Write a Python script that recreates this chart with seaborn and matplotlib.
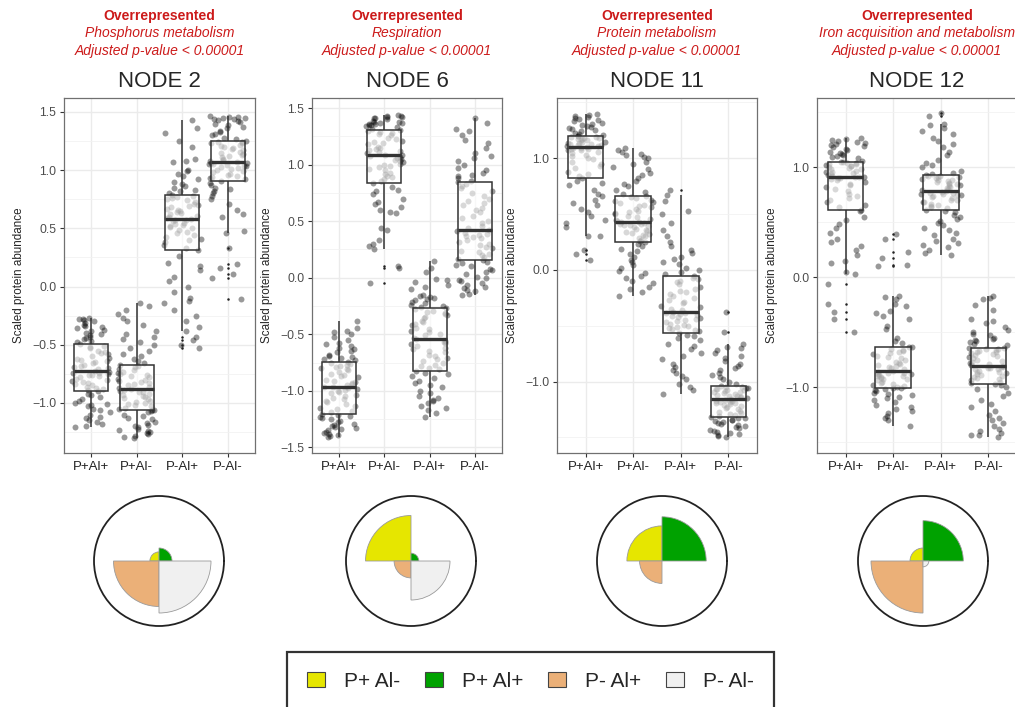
import numpy as np
import pandas as pd
import seaborn as sns
import matplotlib.pyplot as plt
from matplotlib.patches import Patch
from matplotlib.ticker import MultipleLocator, FuncFormatter

# ---- data ----
conditions = ['P+Al+', 'P+Al-', 'P-Al+', 'P-Al-']
node_titles = ['NODE 2', 'NODE 6', 'NODE 11', 'NODE 12']
node_terms = ['Phosphorus metabolism', 'Respiration', 'Protein metabolism',
              'Iron acquisition and metabolism']

# NODE 2
node2_pp = [-1.21, -1.18, -1.15, -1.12, -1.08, -1.05, -1.02, -1.00, -0.97, -0.93, -0.90,
            -0.88, -0.86, -0.84, -0.82, -0.80, -0.78, -0.76, -0.75, -0.74, -0.725,
            -0.70, -0.68, -0.66, -0.64, -0.62, -0.60, -0.57, -0.55, -0.52, -0.494,
            -0.47, -0.44, -0.42, -0.40, -0.37, -0.35, -0.33, -0.30, -0.28, -0.27,
            -1.20, -1.16, -1.13, -1.10, -1.06, -1.03, -1.01, -0.98, -0.95, -0.92,
            -0.89, -0.87, -0.85, -0.83, -0.81, -0.79, -0.77, -0.76, -0.745, -0.735,
            -0.71, -0.69, -0.67, -0.65, -0.63, -0.61, -0.58, -0.56, -0.53, -0.51,
            -0.48, -0.45, -0.43, -0.41, -0.38, -0.36, -0.34, -0.31, -0.29, -0.28]
node2_pm = [-1.30, -1.28, -1.26, -1.24, -1.22, -1.20, -1.17, -1.14, -1.11, -1.08, -1.064,
            -1.05, -1.03, -1.01, -0.99, -0.97, -0.95, -0.93, -0.91, -0.90, -0.884,
            -0.86, -0.84, -0.82, -0.80, -0.78, -0.76, -0.74, -0.72, -0.69, -0.673,
            -0.64, -0.60, -0.55, -0.50, -0.45, -0.41, -0.33, -0.27, -0.20, -0.14,
            -1.29, -1.27, -1.25, -1.23, -1.21, -1.19, -1.16, -1.13, -1.10, -1.07,
            -1.06, -1.04, -1.02, -1.00, -0.98, -0.96, -0.94, -0.92, -0.905, -0.89,
            -0.87, -0.85, -0.83, -0.81, -0.79, -0.77, -0.75, -0.73, -0.71, -0.68,
            -0.66, -0.62, -0.58, -0.53, -0.48, -0.43, -0.38, -0.30, -0.24, -0.17]
node2_mp = [-0.53, -0.50, -0.46, -0.43, -0.38, -0.25, -0.14, -0.05, 0.08, 0.20, 0.314,
            0.36, 0.40, 0.43, 0.46, 0.49, 0.51, 0.53, 0.55, 0.57, 0.58,
            0.60, 0.62, 0.64, 0.66, 0.68, 0.70, 0.73, 0.75, 0.77, 0.79,
            0.82, 0.85, 0.88, 0.92, 0.97, 1.00, 1.08, 1.20, 1.32, 1.43,
            -0.35, -0.30, -0.20, -0.12, -0.10, 0.00, 0.05, 0.14, 0.18, 0.26,
            0.33, 0.38, 0.41, 0.44, 0.47, 0.50, 0.52, 0.54, 0.56, 0.575,
            0.59, 0.61, 0.63, 0.65, 0.67, 0.69, 0.71, 0.74, 0.76, 0.78,
            0.80, 0.83, 0.86, 0.90, 0.95, 0.99, 1.07, 1.10, 1.25, 1.36]
node2_mm = [-0.11, 0.07, 0.11, 0.16, 0.19, 0.33, 0.46, 0.62, 0.75, 0.84, 0.905,
            0.93, 0.95, 0.97, 0.99, 1.01, 1.03, 1.04, 1.05, 1.06, 1.071,
            1.09, 1.11, 1.13, 1.15, 1.17, 1.19, 1.21, 1.23, 1.24, 1.251,
            1.28, 1.31, 1.34, 1.37, 1.40, 1.42, 1.44, 1.45, 1.46, 1.466,
            0.48, 0.60, 0.66, 0.71, 0.78, 0.80, 0.82, 0.85, 0.87, 0.89,
            0.92, 0.94, 0.96, 0.98, 1.00, 1.02, 1.035, 1.045, 1.055, 1.065,
            1.08, 1.10, 1.12, 1.14, 1.16, 1.18, 1.20, 1.22, 1.235, 1.245,
            1.27, 1.30, 1.33, 1.36, 1.39, 1.41, 1.43, 1.44, 1.45, 1.46]

# NODE 6
node6_pp = [-1.41, -1.39, -1.37, -1.35, -1.33, -1.31, -1.29, -1.27, -1.24, -1.22, -1.206,
            -1.18, -1.15, -1.12, -1.09, -1.06, -1.04, -1.01, -0.99, -0.975, -0.962,
            -0.94, -0.92, -0.90, -0.87, -0.85, -0.82, -0.80, -0.78, -0.76, -0.744,
            -0.72, -0.70, -0.68, -0.65, -0.62, -0.59, -0.55, -0.50, -0.47, -0.38,
            -1.40, -1.38, -1.36, -1.34, -1.32, -1.30, -1.28, -1.25, -1.23, -1.215,
            -1.19, -1.16, -1.13, -1.10, -1.07, -1.05, -1.02, -1.00, -0.98, -0.97,
            -0.95, -0.93, -0.91, -0.88, -0.86, -0.83, -0.81, -0.79, -0.77, -0.75,
            -0.73, -0.71, -0.69, -0.66, -0.63, -0.60, -0.58, -0.52, -0.48, -0.44]
node6_pm = [-0.05, 0.09, 0.10, 0.25, 0.33, 0.42, 0.57, 0.63, 0.70, 0.77, 0.841,
            0.87, 0.90, 0.93, 0.96, 0.99, 1.01, 1.03, 1.05, 1.07, 1.082,
            1.10, 1.12, 1.14, 1.16, 1.19, 1.21, 1.24, 1.27, 1.29, 1.309,
            1.33, 1.35, 1.36, 1.37, 1.38, 1.40, 1.41, 1.42, 1.43, 1.44,
            0.28, 0.30, 0.44, 0.58, 0.60, 0.65, 0.67, 0.74, 0.78, 0.80,
            0.86, 0.89, 0.92, 0.95, 0.98, 1.00, 1.02, 1.04, 1.06, 1.075,
            1.09, 1.11, 1.13, 1.15, 1.18, 1.20, 1.23, 1.26, 1.28, 1.30,
            1.32, 1.34, 1.35, 1.36, 1.37, 1.38, 1.39, 1.41, 1.42, 1.43]
node6_mp = [-1.23, -1.17, -1.13, -1.09, -1.06, -1.02, -0.97, -0.93, -0.89, -0.85, -0.829,
            -0.80, -0.77, -0.74, -0.71, -0.68, -0.65, -0.62, -0.59, -0.57, -0.544,
            -0.51, -0.48, -0.45, -0.42, -0.39, -0.36, -0.33, -0.31, -0.29, -0.27,
            -0.25, -0.22, -0.20, -0.18, -0.15, -0.10, -0.06, -0.02, 0.09, 0.15,
            -1.20, -1.15, -1.11, -1.08, -1.05, -1.00, -0.95, -0.91, -0.87, -0.84,
            -0.81, -0.78, -0.75, -0.72, -0.69, -0.66, -0.63, -0.60, -0.58, -0.555,
            -0.53, -0.50, -0.47, -0.44, -0.41, -0.38, -0.35, -0.32, -0.30, -0.28,
            -0.26, -0.24, -0.21, -0.19, -0.17, -0.16, -0.08, -0.04, -0.01, 0.05]
node6_mm = [-0.15, -0.12, -0.09, -0.06, -0.03, 0.00, 0.03, 0.07, 0.10, 0.13, 0.156,
            0.18, 0.21, 0.24, 0.27, 0.30, 0.33, 0.36, 0.38, 0.40, 0.42,
            0.46, 0.50, 0.55, 0.60, 0.64, 0.68, 0.72, 0.77, 0.81, 0.847,
            0.88, 0.91, 0.95, 1.00, 1.06, 1.10, 1.19, 1.26, 1.32, 1.41,
            -0.14, -0.11, -0.08, -0.05, -0.02, 0.01, 0.05, 0.08, 0.11, 0.14,
            0.17, 0.20, 0.23, 0.26, 0.29, 0.32, 0.35, 0.37, 0.39, 0.41,
            0.44, 0.48, 0.53, 0.58, 0.62, 0.66, 0.70, 0.75, 0.79, 0.83,
            0.86, 0.90, 0.93, 0.97, 1.03, 1.08, 1.15, 1.22, 1.30, 1.37]

# NODE 11
node11_pp = [0.09, 0.14, 0.18, 0.30, 0.38, 0.45, 0.52, 0.60, 0.68, 0.76, 0.821,
             0.86, 0.91, 0.95, 0.99, 1.02, 1.05, 1.07, 1.08, 1.09, 1.104,
             1.11, 1.12, 1.13, 1.14, 1.15, 1.16, 1.17, 1.18, 1.19, 1.202,
             1.22, 1.24, 1.26, 1.28, 1.30, 1.32, 1.34, 1.36, 1.38, 1.40,
             0.30, 0.42, 0.48, 0.55, 0.58, 0.63, 0.66, 0.72, 0.78, 0.80,
             0.84, 0.88, 0.93, 0.97, 1.00, 1.03, 1.06, 1.075, 1.085, 1.095,
             1.11, 1.12, 1.13, 1.14, 1.15, 1.16, 1.17, 1.18, 1.19, 1.20,
             1.21, 1.23, 1.25, 1.27, 1.29, 1.31, 1.33, 1.35, 1.37, 1.39]
node11_pm = [-0.23, -0.17, -0.12, -0.07, -0.03, 0.02, 0.07, 0.12, 0.17, 0.21, 0.247,
             0.27, 0.30, 0.32, 0.34, 0.36, 0.38, 0.40, 0.41, 0.42, 0.432,
             0.45, 0.47, 0.50, 0.52, 0.55, 0.57, 0.60, 0.62, 0.64, 0.661,
             0.70, 0.75, 0.80, 0.85, 0.90, 0.95, 1.00, 1.03, 1.06, 1.09,
             -0.20, -0.15, -0.10, -0.05, -0.01, 0.04, 0.09, 0.14, 0.19, 0.23,
             0.26, 0.285, 0.31, 0.33, 0.35, 0.37, 0.39, 0.405, 0.415, 0.425,
             0.44, 0.46, 0.48, 0.51, 0.53, 0.56, 0.58, 0.61, 0.63, 0.65,
             0.68, 0.72, 0.77, 0.82, 0.87, 0.92, 0.97, 1.01, 1.04, 1.07]
node11_mp = [-1.11, -1.05, -0.98, -0.92, -0.87, -0.80, -0.74, -0.68, -0.63, -0.59, -0.565,
             -0.54, -0.52, -0.50, -0.48, -0.46, -0.44, -0.42, -0.40, -0.39, -0.375,
             -0.35, -0.32, -0.29, -0.25, -0.22, -0.19, -0.15, -0.11, -0.08, -0.057,
             -0.02, 0.02, 0.07, 0.12, 0.18, 0.25, 0.36, 0.50, 0.67, 0.72,
             -1.08, -1.02, -0.95, -0.90, -0.84, -0.77, -0.71, -0.66, -0.61, -0.58,
             -0.55, -0.53, -0.51, -0.49, -0.47, -0.45, -0.43, -0.41, -0.395, -0.385,
             -0.36, -0.33, -0.30, -0.27, -0.23, -0.20, -0.17, -0.13, -0.10, -0.07,
             -0.04, 0.00, 0.05, 0.10, 0.15, 0.21, 0.30, 0.42, 0.53, 0.62]
node11_mm = [-1.50, -1.48, -1.46, -1.44, -1.42, -1.40, -1.38, -1.36, -1.34, -1.33, -1.32,
             -1.30, -1.28, -1.26, -1.24, -1.22, -1.20, -1.19, -1.18, -1.17, -1.158,
             -1.14, -1.13, -1.12, -1.10, -1.09, -1.08, -1.07, -1.06, -1.05, -1.039,
             -1.00, -0.96, -0.92, -0.88, -0.84, -0.79, -0.74, -0.69, -0.56, -0.38,
             -1.49, -1.47, -1.45, -1.43, -1.41, -1.39, -1.37, -1.35, -1.34, -1.33,
             -1.31, -1.29, -1.27, -1.25, -1.23, -1.21, -1.195, -1.185, -1.175, -1.165,
             -1.15, -1.135, -1.125, -1.11, -1.095, -1.085, -1.075, -1.065, -1.055, -1.045,
             -1.02, -0.98, -0.94, -0.90, -0.86, -0.82, -0.77, -0.72, -0.70, -0.66]

# NODE 12
node12_pp = [-0.50, -0.38, -0.32, -0.24, -0.06, 0.03, 0.15, 0.25, 0.35, 0.48, 0.615,
             0.66, 0.70, 0.74, 0.78, 0.82, 0.85, 0.88, 0.90, 0.91, 0.915,
             0.93, 0.95, 0.96, 0.98, 0.99, 1.01, 1.02, 1.03, 1.04, 1.052,
             1.08, 1.10, 1.12, 1.14, 1.17, 1.19, 1.21, 1.23, 1.25, 1.27,
             0.05, 0.13, 0.20, 0.28, 0.32, 0.40, 0.45, 0.52, 0.55, 0.60,
             0.64, 0.68, 0.72, 0.76, 0.80, 0.84, 0.87, 0.89, 0.905, 0.91,
             0.92, 0.94, 0.955, 0.97, 0.985, 1.00, 1.015, 1.025, 1.035, 1.045,
             1.06, 1.09, 1.11, 1.13, 1.16, 1.18, 1.20, 1.22, 1.24, 1.26]
node12_pm = [-1.35, -1.28, -1.24, -1.20, -1.16, -1.12, -1.09, -1.06, -1.04, -1.02, -1.006,
             -0.99, -0.97, -0.95, -0.93, -0.92, -0.90, -0.89, -0.88, -0.87, -0.855,
             -0.83, -0.81, -0.79, -0.77, -0.74, -0.72, -0.69, -0.67, -0.65, -0.636,
             -0.58, -0.47, -0.38, -0.31, -0.24, -0.17, 0.11, 0.17, 0.23, 0.39,
             -1.30, -1.26, -1.22, -1.18, -1.14, -1.10, -1.07, -1.05, -1.03, -1.01,
             -1.00, -0.98, -0.96, -0.94, -0.925, -0.91, -0.895, -0.885, -0.875, -0.865,
             -0.84, -0.82, -0.80, -0.78, -0.75, -0.73, -0.70, -0.68, -0.66, -0.64,
             -0.60, -0.55, -0.44, -0.35, -0.33, -0.26, -0.20, -0.18, 0.10, 0.35]
node12_mp = [0.20, 0.25, 0.29, 0.33, 0.38, 0.43, 0.47, 0.51, 0.55, 0.59, 0.615,
             0.64, 0.66, 0.68, 0.70, 0.72, 0.74, 0.75, 0.76, 0.77, 0.78,
             0.80, 0.82, 0.84, 0.85, 0.87, 0.88, 0.89, 0.91, 0.92, 0.93,
             0.95, 1.00, 1.04, 1.11, 1.18, 1.24, 1.30, 1.38, 1.47, 1.49,
             0.22, 0.27, 0.31, 0.35, 0.40, 0.45, 0.49, 0.53, 0.57, 0.60,
             0.625, 0.645, 0.665, 0.685, 0.705, 0.725, 0.745, 0.755, 0.765, 0.775,
             0.79, 0.81, 0.83, 0.845, 0.86, 0.875, 0.885, 0.90, 0.91, 0.92,
             0.94, 0.97, 1.02, 1.07, 1.14, 1.21, 1.27, 1.33, 1.36, 1.39]
node12_mm = [-1.45, -1.44, -1.42, -1.38, -1.33, -1.28, -1.22, -1.15, -1.08, -1.02, -0.97,
             -0.95, -0.93, -0.91, -0.89, -0.87, -0.86, -0.84, -0.83, -0.82, -0.812,
             -0.79, -0.77, -0.75, -0.73, -0.71, -0.69, -0.68, -0.66, -0.65, -0.642,
             -0.61, -0.58, -0.56, -0.53, -0.50, -0.45, -0.40, -0.30, -0.20, -0.17,
             -1.44, -1.40, -1.35, -1.30, -1.25, -1.18, -1.12, -1.05, -1.00, -0.98,
             -0.96, -0.94, -0.92, -0.90, -0.88, -0.865, -0.85, -0.835, -0.825, -0.815,
             -0.80, -0.78, -0.76, -0.74, -0.72, -0.70, -0.685, -0.67, -0.655, -0.645,
             -0.62, -0.59, -0.57, -0.55, -0.52, -0.48, -0.42, -0.38, -0.25, -0.19]

# rose charts: relative radius per condition (order of legend)
rose_labels = ['P+ Al-', 'P+ Al+', 'P- Al+', 'P- Al-']
rose_colors = ['#E6E600', '#00A200', '#EBB078', '#F0F0F0']
rose_node2 = [0.14, 0.20, 0.70, 0.80]
rose_node6 = [0.70, 0.12, 0.26, 0.60]
rose_node11 = [0.54, 0.68, 0.345, 0.0]
rose_node12 = [0.20, 0.62, 0.80, 0.09]

node_values = [
    [node2_pp, node2_pm, node2_mp, node2_mm],
    [node6_pp, node6_pm, node6_mp, node6_mm],
    [node11_pp, node11_pm, node11_mp, node11_mm],
    [node12_pp, node12_pm, node12_mp, node12_mm],
]
rose_values = [rose_node2, rose_node6, rose_node11, rose_node12]

# ---- layout ----
sns.set_style('white')
plt.rcParams['font.family'] = ['Liberation Sans', 'DejaVu Sans']
np.random.seed(7)

W, H = 1015, 707
fig = plt.figure(figsize=(W / 100, H / 100), dpi=100)

panel_px = [(64, 191), (312, 190), (557, 200), (817, 200)]
ylims = [(-1.43, 1.62), (-1.55, 1.59), (-1.64, 1.54), (-1.60, 1.63)]
ysteps = [0.5, 0.5, 1.0, 1.0]
rose_cx = [159, 411, 662, 923]
red = '#CC1A1A'
fmt = FuncFormatter(lambda v, p: f'{v:.1f}'.replace('-', '\u2212'))

for i in range(4):
    left, width = panel_px[i]
    ax = fig.add_axes([left / W, 1 - 453 / H, width / W, 355 / H])
    df = pd.DataFrame({
        'condition': np.repeat(conditions, [len(v) for v in node_values[i]]),
        'value': np.concatenate(node_values[i]),
    })
    sns.stripplot(data=df, x='condition', y='value', order=conditions, color='black',
                  alpha=0.4, size=4.3, jitter=0.42, linewidth=0, ax=ax, zorder=1)
    sns.boxplot(data=df, x='condition', y='value', order=conditions, color='white',
                saturation=1, width=0.75, linecolor='#333333', linewidth=1.1,
                showcaps=False, medianprops=dict(linewidth=2.4, color='#333333'),
                flierprops=dict(marker='o', markerfacecolor='#222222',
                                markeredgecolor='none', markersize=1.8),
                ax=ax, zorder=2)
    for p in ax.patches:
        p.set_facecolor((1, 1, 1, 0.62))

    ax.set_xlim(-0.6, 3.6)
    ax.set_ylim(*ylims[i])
    ax.yaxis.set_major_locator(MultipleLocator(ysteps[i]))
    ax.yaxis.set_minor_locator(MultipleLocator(ysteps[i] / 2))
    ax.yaxis.set_major_formatter(fmt)
    ax.set_axisbelow(True)
    ax.grid(True, which='major', color='#EBEBEB', linewidth=1.0)
    ax.grid(True, which='minor', axis='y', color='#F2F2F2', linewidth=0.6)
    for s in ax.spines.values():
        s.set_color('#707070')
        s.set_linewidth(0.9)
    ax.tick_params(axis='both', which='major', length=3, width=0.8, color='#333333',
                   pad=2.5, left=True, bottom=True)
    ax.tick_params(axis='y', which='minor', length=0)
    ax.tick_params(axis='y', labelsize=8.8, labelcolor='#4D4D4D')
    ax.tick_params(axis='x', labelsize=9.5, labelcolor='#222222')
    ax.set_xlabel('')
    ax.set_ylabel('Scaled protein abundance', fontsize=8.4, labelpad=5)
    ax.set_title(node_titles[i], fontsize=16, pad=8)

    cx = (left + width / 2) / W
    fig.text(cx, 1 - 16 / H, 'Overrepresented', color=red, fontsize=10,
             fontweight='bold', ha='center', va='center')
    fig.text(cx, 1 - 33 / H, node_terms[i], color=red, fontsize=10,
             style='italic', ha='center', va='center')
    fig.text(cx, 1 - 51 / H, 'Adjusted p-value < 0.00001', color=red, fontsize=10,
             style='italic', ha='center', va='center')

    # rose chart under each panel
    r = 65
    pax = fig.add_axes([(rose_cx[i] - r) / W, 1 - (561 + r) / H, 2 * r / W, 2 * r / H],
                       projection='polar')
    angles = np.deg2rad([135, 45, 225, 315])
    pax.bar(angles, rose_values[i], width=np.pi / 2, color=rose_colors,
            edgecolor='#9a9a9a', linewidth=0.6)
    pax.set_ylim(0, 1)
    pax.set_xticks([])
    pax.set_yticks([])
    pax.grid(False)
    pax.spines['polar'].set_color('#222222')
    pax.spines['polar'].set_linewidth(1.3)

handles = [Patch(facecolor=c, edgecolor='#444444', linewidth=0.8) for c in rose_colors]
leg = fig.legend(handles, rose_labels, loc='upper left', bbox_to_anchor=(287 / W, 1 - 652 / H),
                 ncol=4, fontsize=15, frameon=True, fancybox=False, handlelength=0.87,
                 handleheight=0.77, handletextpad=0.9, columnspacing=1.2,
                 borderpad=0.95, borderaxespad=0)
leg.get_frame().set_edgecolor('black')
leg.get_frame().set_linewidth(1.6)

fig.savefig('out.png', dpi=100)
